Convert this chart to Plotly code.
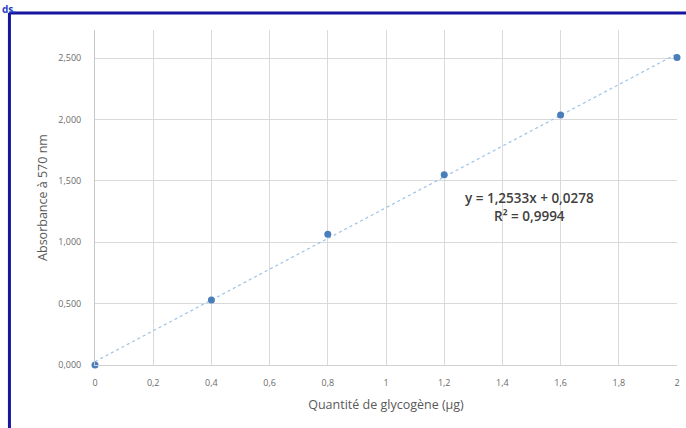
import plotly.graph_objects as go

# Data
quantite = [0, 0.4, 0.8, 1.2, 1.6, 2.0]
absorbance = [0.000, 0.530, 1.065, 1.550, 2.035, 2.505]
pente = 1.2533
ordonnee = 0.0278
r2_text = "0,9994"
x_ticks = [0, 0.2, 0.4, 0.6, 0.8, 1.0, 1.2, 1.4, 1.6, 1.8, 2.0]
x_labels = ["0", "0,2", "0,4", "0,6", "0,8", "1", "1,2", "1,4", "1,6", "1,8", "2"]
y_ticks = [0, 0.5, 1.0, 1.5, 2.0, 2.5]
y_labels = ["0,000", "0,500", "1,000", "1,500", "2,000", "2,500"]

W, H = 686, 428
L, R, T, B = 95, 6, 30, 63
pw = W - L - R
ph = H - T - B

def px(xpix):
    return (xpix - L) / pw

def py(ypix):
    return (H - B - ypix) / ph

trend_x = [quantite[0], quantite[-1]]
trend_y = [pente * v + ordonnee for v in trend_x]

fig = go.Figure()
fig.add_trace(go.Scatter(x=trend_x, y=trend_y, mode="lines",
                         line=dict(color="#9dc3e6", width=1.2, dash="dot"),
                         hoverinfo="skip", showlegend=False, cliponaxis=False))
fig.add_trace(go.Scatter(x=quantite, y=absorbance, mode="markers",
                         marker=dict(color="#4a7ebb", size=7),
                         showlegend=False, cliponaxis=False))

font_family = "Open Sans, Noto Sans, sans-serif"

fig.update_layout(
    width=W, height=H,
    margin=dict(l=L, r=R, t=T, b=B),
    paper_bgcolor="white", plot_bgcolor="white",
    font=dict(family=font_family, color="#595959"),
    xaxis=dict(range=[0, 2], tickvals=x_ticks, ticktext=x_labels,
               showgrid=True, gridcolor="#d9d9d9", gridwidth=1,
               zeroline=False, showline=True, linecolor="#d0d0d0",
               tickfont=dict(size=9, color="#6b6b6b"),
               ticks="outside", ticklen=9, tickcolor="rgba(0,0,0,0)",
               title=dict(text="Quantité de glycogène (µg)",
                          font=dict(size=12.5, color="#595959"), standoff=12)),
    yaxis=dict(range=[0, 2.728], tickvals=y_ticks, ticktext=y_labels,
               showgrid=True, gridcolor="#d9d9d9", gridwidth=1,
               zeroline=False, showline=True, linecolor="#c8c8c8",
               tickfont=dict(size=9, color="#6b6b6b"),
               ticks="outside", ticklen=11, tickcolor="rgba(0,0,0,0)",
               title=dict(text="Absorbance à 570 nm",
                          font=dict(size=12.5, color="#595959"), standoff=7)),
    annotations=[
        dict(x=1.494, y=1.285, xref="x", yref="y",
             text=f"y = {str(pente).replace('.', ',')}x + {str(ordonnee).replace('.', ',')}<br>R² = {r2_text}",
             showarrow=False, align="center",
             font=dict(size=13.5, color="#404040", family=font_family, weight=600)),
        dict(x=px(0), y=py(0), xref="paper", yref="paper", xanchor="left", yanchor="top",
             text="<b>ds.</b>", showarrow=False,
             font=dict(size=10, color="#1f3fc4", family=font_family)),
    ],
    shapes=[
        dict(type="line", xref="paper", yref="paper",
             x0=px(9), x1=px(700), y0=py(13), y1=py(13),
             line=dict(color="#1515a0", width=3)),
        dict(type="line", xref="paper", yref="paper",
             x0=px(9), x1=px(9), y0=py(13), y1=py(440),
             line=dict(color="#1515a0", width=3)),
    ],
)

fig.write_html("out.html")
